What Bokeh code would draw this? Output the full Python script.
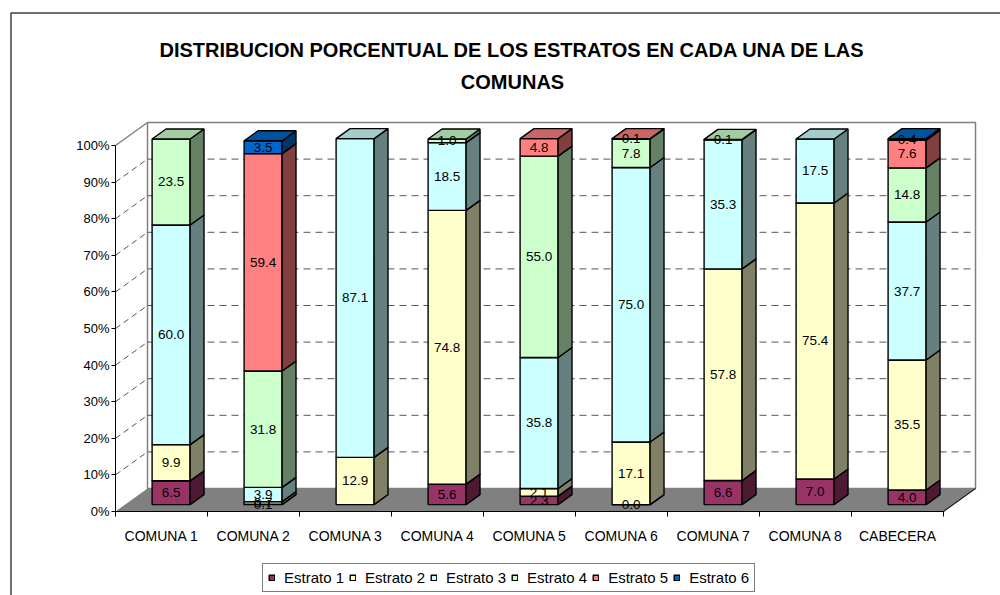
from bokeh.plotting import figure
from bokeh.models import (Range1d, ColumnDataSource, FixedTicker, Legend, LegendItem,
                          PrintfTickFormatter)
from bokeh.embed import file_html
from bokeh.resources import INLINE
from bokeh.core.properties import value

# ---------------- data ----------------
comunas = ["COMUNA 1", "COMUNA 2", "COMUNA 3", "COMUNA 4", "COMUNA 5",
           "COMUNA 6", "COMUNA 7", "COMUNA 8", "CABECERA"]
estrato_1 = [6.5, 0.1, None, 5.6, 2.3, 0.0, 6.6, 7.0, 4.0]
estrato_2 = [9.9, 0.7, 12.9, 74.8, 2.1, 17.1, 57.8, 75.4, 35.5]
estrato_3 = [60.0, 3.9, 87.1, 18.5, 35.8, 75.0, 35.3, 17.5, 37.7]
estrato_4 = [23.5, 31.8, None, 1.0, 55.0, 7.8, 0.1, None, 14.8]
estrato_5 = [None, 59.4, None, None, 4.8, 0.1, None, None, 7.6]
estrato_6 = [None, 3.5, None, None, None, None, None, None, 0.4]
series_names = ["Estrato 1", "Estrato 2", "Estrato 3", "Estrato 4", "Estrato 5", "Estrato 6"]
y_ticks = [0, 10, 20, 30, 40, 50, 60, 70, 80, 90, 100]
title_lines = ["DISTRIBUCION PORCENTUAL DE LOS ESTRATOS EN CADA UNA DE LAS", "COMUNAS"]

series = [estrato_1, estrato_2, estrato_3, estrato_4, estrato_5, estrato_6]
front_colors = ["#993366", "#FFFFCC", "#CCFFFF", "#CCFFCC", "#FF8080", "#0066CC"]
side_colors = ["#4D1A33", "#808066", "#668080", "#668066", "#804040", "#003366"]
top_colors = ["#7A2952", "#CCCCA3", "#A3CCCC", "#A3CCA3", "#CC6666", "#00529F"]

FONT = "Liberation Sans"
N = len(comunas)
WIDTH, HEIGHT = 1000, 595

# pixel scale of the plotting area: one category = 92 px, one percent = 3.66 px
PX_X, PX_Y = 92.0, 3.66
X0_PAGE, Y0_PAGE = 115.0, 511.0   # canvas position of the axes origin


def xd(px):
    return (px - X0_PAGE) / PX_X


def yd(py):
    return (Y0_PAGE - py) / PX_Y


# 3-D geometry (in data units)
DX = 32 / PX_X      # depth shift along x
DY = 23 / PX_Y      # depth shift along y
F1, F2 = 0.30, 0.735  # bar front / back depth fractions
W = 0.413             # bar width

p = figure(width=WIDTH, height=HEIGHT, x_range=Range1d(xd(0), xd(WIDTH)),
           y_range=Range1d(yd(HEIGHT), yd(0)),
           output_backend="svg", toolbar_location=None,
           min_border_left=0, min_border_right=0, min_border_top=0, min_border_bottom=0)
p.outline_line_color = None
p.background_fill_color = "white"
p.border_fill_color = "white"
p.xgrid.visible = False
p.ygrid.visible = False

# outer chart border (left and top edges are the visible ones)
p.line([xd(10.5), xd(10.5), xd(1020)], [yd(620), yd(12.5), yd(12.5)],
       line_color="#404040", line_width=1.5)

# title
p.text(x=[xd(512)] * 2, y=[yd(49.5), yd(81.5)], text=title_lines, text_align="center",
       text_baseline="alphabetic", text_font=value(FONT), text_font_size="20px",
       text_font_style="bold", text_color="black")

# ---------------- walls & floor ----------------
p.patch([DX, N + DX, N + DX, DX], [DY, DY, 100 + DY, 100 + DY],
        fill_color="white", line_color="#808080", line_width=1.5)
p.line([0, DX], [100, 100 + DY], line_color="#808080", line_width=1.5)
for t in y_ticks[1:-1]:
    p.line([DX, N + DX], [t + DY, t + DY], line_color="#555555", line_dash="7 5", line_width=1)
    p.line([0, DX], [t, t + DY], line_color="#555555", line_dash="6 4", line_width=1)
p.patch([0, N, N + DX, DX], [0, 0, DY, DY], fill_color="#808080", line_color=None)
p.line([N, N + DX], [0, DY], line_color="#202020", line_width=1.2)

# ---------------- bars ----------------
legend_items = []
label_x, label_y, label_t = [], [], []
cum = [0.0] * N
for k, vals in enumerate(series):
    fl, fr, fb, ft = [], [], [], []
    sx, sy, tx, ty = [], [], [], []
    for i, v in enumerate(vals):
        if v is None:
            continue
        b = cum[i]
        t = b + v
        cum[i] = t
        left = i + 0.5 - W / 2 + F1 * DX
        right = left + W
        bot = b + F1 * DY
        top = t + F1 * DY
        ddx = (F2 - F1) * DX
        ddy = (F2 - F1) * DY
        fl.append(left); fr.append(right); fb.append(bot); ft.append(top)
        sx.append([right, right + ddx, right + ddx, right])
        sy.append([bot, bot + ddy, top + ddy, top])
        tx.append([left, right, right + ddx, left + ddx])
        ty.append([top, top, top + ddy, top + ddy])
        label_x.append((left + right) / 2)
        label_y.append((bot + top) / 2)
        label_t.append(f"{v:.1f}")
    r = p.quad(left=fl, right=fr, bottom=fb, top=ft, fill_color=front_colors[k],
               line_color="black", line_width=1.4)
    p.patches(sx, sy, fill_color=side_colors[k], line_color="black", line_width=1.4)
    p.patches(tx, ty, fill_color=top_colors[k], line_color="black", line_width=1.4)
    legend_items.append(LegendItem(label=series_names[k], renderers=[r]))

lab_src = ColumnDataSource(dict(x=label_x, y=label_y, t=label_t))
p.text(x="x", y="y", text="t", source=lab_src, text_align="center", text_baseline="middle",
       text_font=value(FONT), text_font_size="13.5px", text_color="black")

# ---------------- axes (pinned at the origin of the 3-D box) ----------------
p.yaxis.fixed_location = 0
p.yaxis.ticker = FixedTicker(ticks=y_ticks)
p.yaxis.formatter = PrintfTickFormatter(format="%d%%")
p.yaxis.bounds = (0, 100)
p.yaxis.major_tick_out = 4
p.yaxis.major_tick_in = 0
p.yaxis.minor_tick_line_color = None
p.yaxis.axis_line_color = "black"
p.yaxis.major_tick_line_color = "black"
p.yaxis.major_label_text_font = FONT
p.yaxis.major_label_text_font_size = "13px"
p.yaxis.major_label_text_color = "black"
p.yaxis.major_label_standoff = 2

centers = [i + 0.5 for i in range(N)]
p.xaxis.fixed_location = 0
p.xaxis.ticker = FixedTicker(ticks=centers, minor_ticks=list(range(N + 1)))
p.xaxis.major_label_overrides = {c: name for c, name in zip(centers, comunas)}
p.xaxis.bounds = (0, N)
p.xaxis.major_tick_line_color = None
p.xaxis.minor_tick_line_color = "black"
p.xaxis.minor_tick_out = 5
p.xaxis.minor_tick_in = 0
p.xaxis.axis_line_color = "black"
p.xaxis.major_label_text_font = FONT
p.xaxis.major_label_text_font_size = "14px"
p.xaxis.major_label_text_color = "black"
p.xaxis.major_label_standoff = 10

# ---------------- legend ----------------
legend = Legend(items=legend_items, orientation="horizontal", location=(262, 3),
                label_text_font=FONT, label_text_font_size="15px", label_text_color="black",
                glyph_width=7, glyph_height=7, label_standoff=9, spacing=5,
                padding=5, margin=0, border_line_color="black", border_line_width=1,
                background_fill_color="white")
p.add_layout(legend, "center")

open("out.html", "w").write(file_html(p, INLINE))
